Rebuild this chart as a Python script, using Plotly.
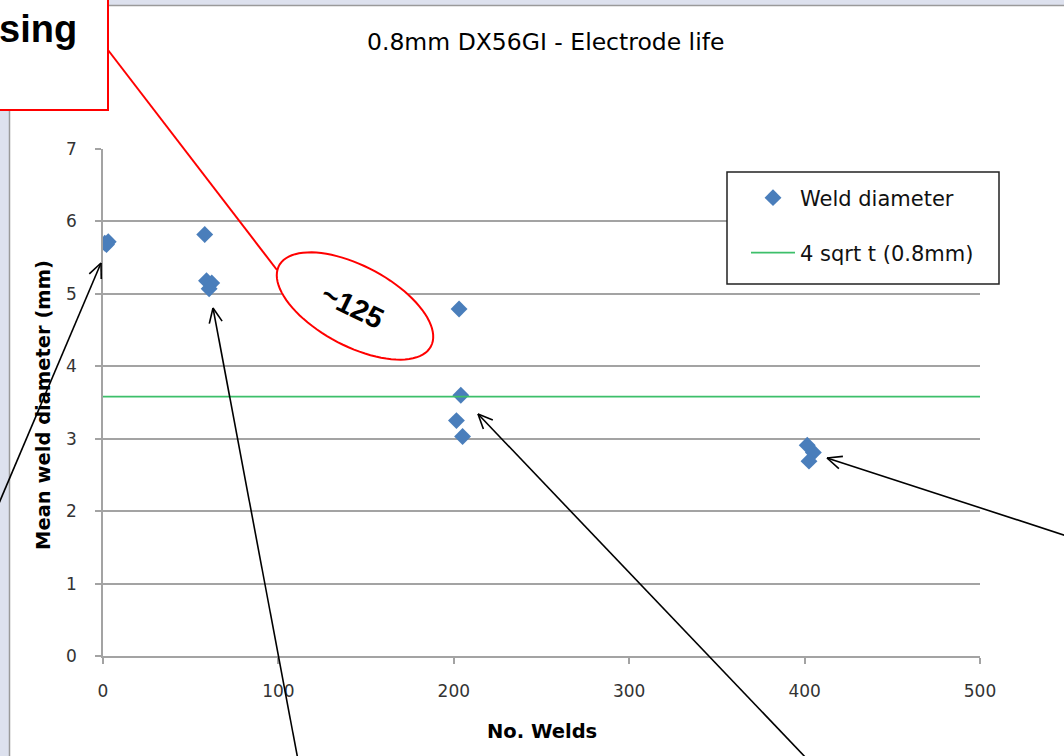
import numpy as np
import plotly.graph_objects as go

# ---- data ----
welds = [1, 3, 2, 58, 59, 62, 60.5, 203, 204, 201.5, 205, 401.5, 405, 402.5]
diameter = [5.70, 5.72, 5.68, 5.82, 5.18, 5.15, 5.07, 4.79, 3.60, 3.25, 3.03, 2.91, 2.81, 2.69]
limit_x = [0, 500]
limit_y = [3.58, 3.58]
x_ticks = [0, 100, 200, 300, 400, 500]
y_ticks = [0, 1, 2, 3, 4, 5, 6, 7]

W, H = 1064, 756
L, R, T, B = 103, 980, 149, 656  # plot area in pixels


def px(x):
    return (x - L) / (R - L)


def py(y):
    return (B - y) / (B - T)


FONT = "DejaVu Sans"
GRID = "#a3a3a3"

fig = go.Figure()
fig.add_trace(go.Scatter(
    x=welds, y=diameter, mode="markers", name="Weld diameter",
    marker=dict(symbol="diamond", size=13, color="#4a7ebb"),
    legend="legend"))
fig.add_trace(go.Scatter(
    x=limit_x, y=limit_y, mode="lines", name="4 sqrt t (0.8mm)",
    line=dict(color="#3dbf6a", width=1.8),
    legend="legend2"))

shapes = []
# slide background strips
shapes.append(dict(type="rect", xref="paper", yref="paper", x0=px(-5), x1=px(1070),
                   y0=py(5), y1=py(-5), fillcolor="#dde1ee", line=dict(width=0), layer="above"))
shapes.append(dict(type="rect", xref="paper", yref="paper", x0=px(-5), x1=px(9),
                   y0=py(760), y1=py(5), fillcolor="#dde1ee", line=dict(width=0), layer="above"))
shapes.append(dict(type="line", xref="paper", yref="paper", x0=px(9.5), x1=px(1070),
                   y0=py(5.5), y1=py(5.5), line=dict(color="#9a9a9a", width=1.5), layer="above"))
shapes.append(dict(type="line", xref="paper", yref="paper", x0=px(9.5), x1=px(9.5),
                   y0=py(760), y1=py(5.5), line=dict(color="#9a9a9a", width=1.5), layer="above"))
# legend box
shapes.append(dict(type="rect", xref="paper", yref="paper", x0=px(727), x1=px(999),
                   y0=py(284), y1=py(172), fillcolor="white",
                   line=dict(color="#222", width=1.5), layer="above"))
# callout box
shapes.append(dict(type="rect", xref="paper", yref="paper", x0=px(-5), x1=px(108),
                   y0=py(110), y1=py(-5), fillcolor="white",
                   line=dict(color="#ff0000", width=2), layer="above"))
# red connector line
shapes.append(dict(type="line", xref="paper", yref="paper", x0=px(108), y0=py(50),
                   x1=px(277), y1=py(270), line=dict(color="#ff0000", width=2), layer="above"))
# rotated ellipse
cx, cy, a, b, ang = 355, 306, 86, 40, np.deg2rad(28)
t = np.linspace(0, 2 * np.pi, 90)
ex = cx + a * np.cos(t) * np.cos(ang) - b * np.sin(t) * np.sin(ang)
ey = cy + a * np.cos(t) * np.sin(ang) + b * np.sin(t) * np.cos(ang)
path = "M " + " L ".join(f"{px(xx):.5f},{py(yy):.5f}" for xx, yy in zip(ex, ey)) + " Z"
shapes.append(dict(type="path", xref="paper", yref="paper", path=path, fillcolor="white",
                   line=dict(color="#ff0000", width=2), layer="above"))


def arrow(tail, tip, head=16, spread=24):
    (x0, y0), (x1, y1) = tail, tip
    d = np.arctan2(y0 - y1, x0 - x1)
    out = [dict(type="line", xref="paper", yref="paper", x0=px(x0), y0=py(y0),
                x1=px(x1), y1=py(y1), line=dict(color="black", width=1.6), layer="above")]
    for s in (-1, 1):
        a2 = d + s * np.deg2rad(spread)
        out.append(dict(type="line", xref="paper", yref="paper", x0=px(x1), y0=py(y1),
                        x1=px(x1 + head * np.cos(a2)), y1=py(y1 + head * np.sin(a2)),
                        line=dict(color="black", width=1.6), layer="above"))
    return out


shapes += arrow((-6, 515), (101, 263))
shapes += arrow((298, 760), (213, 308))
shapes += arrow((808, 760), (478, 414))
shapes += arrow((1070, 537), (827, 458))

annotations = [
    dict(text="<b>sing</b>", xref="paper", yref="paper", x=px(79), y=py(29),
         xanchor="right", yanchor="middle", showarrow=False,
         font=dict(family="Liberation Sans", size=38, color="black")),
    dict(text="<b>~125</b>", xref="paper", yref="paper", x=px(352), y=py(306),
         xanchor="center", yanchor="middle", showarrow=False, textangle=26,
         font=dict(family="Liberation Sans", size=29, color="black")),
    dict(text="<b>No. Welds</b>", xref="paper", yref="paper", x=px(542), y=py(731),
         xanchor="center", yanchor="middle", showarrow=False,
         font=dict(family=FONT, size=19.5, color="black")),
    dict(text="<b>Mean weld diameter (mm)</b>", xref="paper", yref="paper", x=px(43), y=py(405),
         xanchor="center", yanchor="middle", showarrow=False, textangle=-90,
         font=dict(family=FONT, size=19.5, color="black")),
    dict(text="0.8mm DX56GI - Electrode life", xref="paper", yref="paper", x=px(545), y=py(42),
         xanchor="center", yanchor="middle", showarrow=False,
         font=dict(family=FONT, size=23.5, color="black")),
]

axis_common = dict(gridcolor=GRID, gridwidth=1.5, showline=True,
                   linecolor=GRID, linewidth=1.5, ticks="outside", ticklen=6,
                   tickcolor=GRID, tickwidth=1.5, zeroline=False,
                   tickfont=dict(family=FONT, size=17, color="#333"))

fig.update_layout(
    width=W, height=H,
    margin=dict(l=L, r=W - R, t=T, b=H - B, pad=0),
    paper_bgcolor="white", plot_bgcolor="white",
    xaxis=dict(range=[0, 500], tickvals=x_ticks, showgrid=False, ticklabelstandoff=13,
               **axis_common),
    yaxis=dict(range=[0, 7], tickvals=y_ticks, showgrid=True, ticklabelstandoff=15,
               **axis_common),
    shapes=shapes, annotations=annotations,
    legend=dict(x=px(746), y=py(198), xanchor="left", yanchor="middle",
                bgcolor="rgba(0,0,0,0)", borderwidth=0, itemwidth=44,
                font=dict(family=FONT, size=21, color="#111")),
    legend2=dict(x=px(746), y=py(253), xanchor="left", yanchor="middle",
                 bgcolor="rgba(0,0,0,0)", borderwidth=0, itemwidth=44,
                 font=dict(family=FONT, size=21, color="#111")),
    showlegend=True,
)

fig.write_html("out.html")
